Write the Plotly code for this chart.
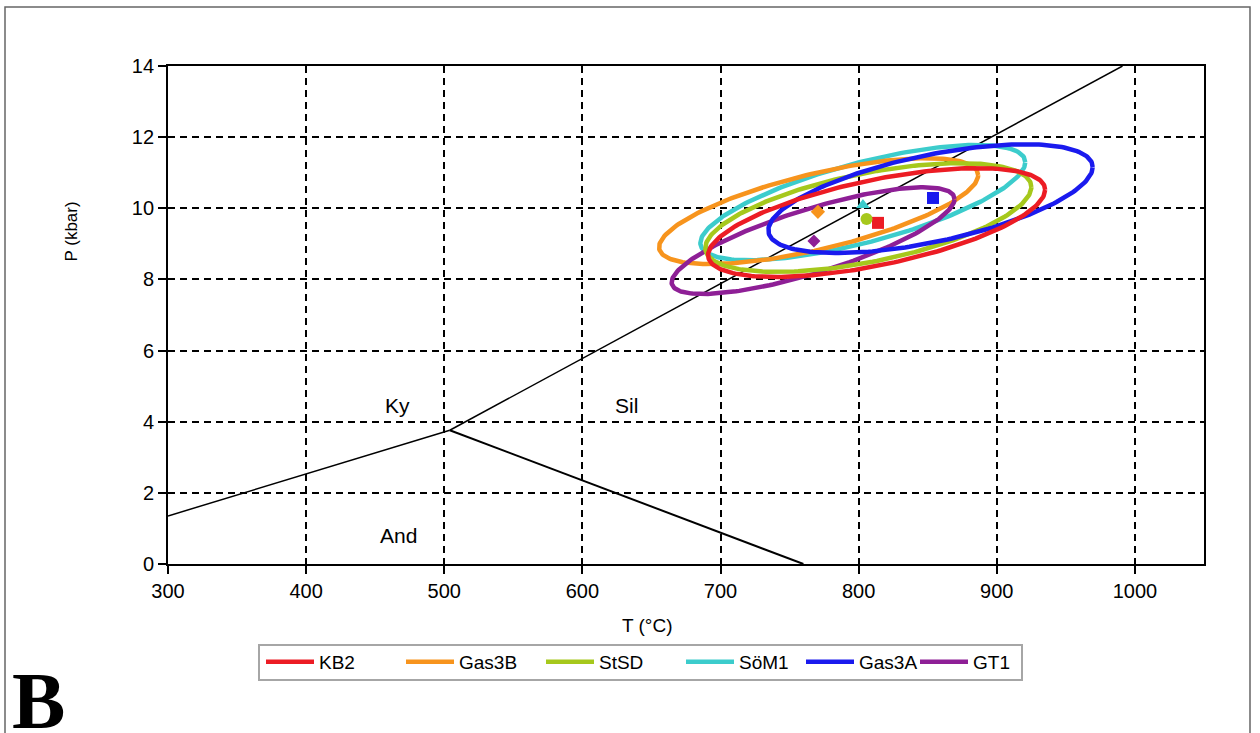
import numpy as np
import plotly.graph_objects as go

# --- Aluminosilicate phase boundaries (T in °C, P in kbar) ---
ky_and_T = [300, 504]
ky_and_P = [1.35, 3.76]
ky_sil_T = [504, 991]
ky_sil_P = [3.76, 14.0]
and_sil_T = [504, 760]
and_sil_P = [3.76, 0.0]

# --- Samples: P-T estimates and their error ellipses ---
names = ["KB2", "Gas3B", "StSD", "SöM1", "Gas3A", "GT1"]
colors = ["#ec1c24", "#f7941d", "#a6c81c", "#3ccccc", "#1a1aee", "#8e1f96"]
symbols = ["square", "diamond", "circle", "triangle-up", "square", "diamond"]
marker_sizes = [12, 11, 12, 12, 12, 10]

point_T = [814, 770.5, 805.7, 803.1, 853.8, 767.6]
point_P = [9.59, 9.90, 9.70, 10.09, 10.29, 9.08]

ell_T = [813, 771, 807, 803, 852, 767]
ell_P = [9.60, 9.92, 9.74, 10.16, 10.27, 9.09]
ell_dT = [122, 115.5, 118, 117.6, 117.4, 102.4]
ell_dP = [1.53, 1.49, 1.53, 1.62, 1.53, 1.50]
ell_rho = [0.60, 0.68, 0.56, 0.70, 0.58, 0.78]

draw_order = [3, 1, 5, 2, 4, 0]

FONT = "Liberation Sans, Arial, sans-serif"

fig = go.Figure()

# phase boundaries
for T, P, w in [(ky_and_T, ky_and_P, 1.5), (ky_sil_T, ky_sil_P, 1.5), (and_sil_T, and_sil_P, 2)]:
    fig.add_trace(go.Scatter(x=T, y=P, mode="lines", line=dict(color="black", width=w),
                             showlegend=False, hoverinfo="skip"))

# error ellipses
t = np.linspace(0, 2 * np.pi, 241)
for i in draw_order:
    s = np.sqrt(1 - ell_rho[i] ** 2)
    xs = ell_T[i] + ell_dT[i] * np.cos(t)
    ys = ell_P[i] + ell_dP[i] * (ell_rho[i] * np.cos(t) + s * np.sin(t))
    fig.add_trace(go.Scatter(
        x=xs, y=ys, mode="lines", name=names[i],
        line=dict(color=colors[i], width=4.5),
        legend="legend" if i < 4 else "legend2",
        legendrank=i, showlegend=True,
    ))

# central estimates
for i in range(len(names)):
    fig.add_trace(go.Scatter(
        x=[point_T[i]], y=[point_P[i]], mode="markers",
        marker=dict(symbol=symbols[i], size=marker_sizes[i], color=colors[i]),
        showlegend=False,
    ))

# field labels
for txt, T, P in [("Ky", 466, 4.47), ("Sil", 632, 4.47), ("And", 467, 0.8)]:
    fig.add_annotation(x=T, y=P, text=txt, showarrow=False,
                       font=dict(family=FONT, size=21, color="black"))

W, H = 1260, 733
L, R, TOP, B = 168, 56, 66, 169
pw, ph = W - L - R, H - TOP - B


def px(x):
    return (x - L) / pw


def py(y):
    return (H - B - y) / ph


# axis titles
fig.add_annotation(xref="paper", yref="paper", x=px(647), y=py(638), text="T (°C)",
                   showarrow=False, font=dict(family=FONT, size=19, color="black"))
fig.add_annotation(xref="paper", yref="paper", x=px(59), y=py(200), text="P (kbar)",
                   textangle=-90, showarrow=False, font=dict(family=FONT, size=17, color="black"))

# panel letter
fig.add_annotation(xref="paper", yref="paper", x=px(10), y=py(747), xanchor="left", yanchor="bottom",
                   text="<b>B</b>", showarrow=False,
                   font=dict(family="Liberation Serif, Times New Roman, serif", size=80, color="black"))

# outer frame and legend box
fig.add_shape(type="rect", xref="paper", yref="paper", x0=px(5), x1=px(1250), y0=py(760), y1=py(7),
              line=dict(color="#666666", width=1.5), layer="below")
fig.add_shape(type="rect", xref="paper", yref="paper", x0=px(259), x1=px(1022), y0=py(680), y1=py(645),
              line=dict(color="#a6a6a6", width=2))

axis_common = dict(
    showline=True, linecolor="black", linewidth=1.8, mirror=True,
    ticks="outside", ticklen=8, tickcolor="black", tickwidth=1.5,
    showgrid=True, gridcolor="black", gridwidth=2, griddash="7px,5px",
    zeroline=False, tickfont=dict(family=FONT, size=20, color="black"),
)

legend_common = dict(
    orientation="h", xanchor="left", yanchor="middle", y=py(662),
    itemwidth=48, bgcolor="rgba(0,0,0,0)", borderwidth=0, traceorder="normal",
    font=dict(family=FONT, size=19, color="black"),
)

fig.update_layout(
    width=W, height=H,
    margin=dict(l=L, r=R, t=TOP, b=B, autoexpand=False),
    paper_bgcolor="white", plot_bgcolor="white",
    xaxis=dict(range=[300, 1050], tickvals=[300, 400, 500, 600, 700, 800, 900, 1000], **axis_common),
    yaxis=dict(range=[0, 14], tickvals=list(range(0, 15, 2)), **axis_common),
    legend=dict(x=px(261), entrywidth=77, **legend_common),
    legend2=dict(x=px(801), entrywidth=51, **legend_common),
)

fig.write_html("out.html")
